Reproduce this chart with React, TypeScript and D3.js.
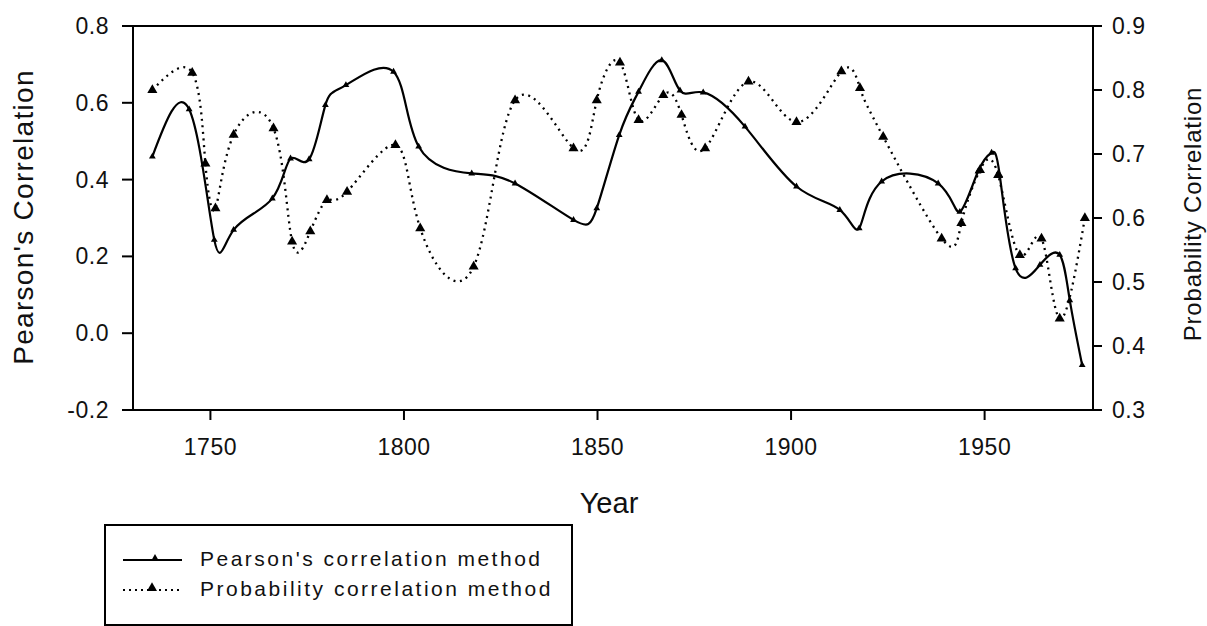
import React from "react";
import * as d3 from "d3";

const pearsonYears = [1735, 1744.5, 1751, 1756, 1766, 1770.7, 1775.5, 1779.7, 1785, 1797.3, 1803.8, 1817.5, 1828.7, 1843.8, 1849.8, 1855.6, 1860.6, 1866.6, 1871.3, 1877.3, 1888.1, 1901.4, 1912.6, 1917.6, 1923.4, 1938, 1943.6, 1948.3, 1951.8, 1953.9, 1958, 1964.3, 1969.4, 1972, 1975.2];
const pearsonValues = [0.46, 0.583, 0.243, 0.269, 0.351, 0.455, 0.453, 0.594, 0.646, 0.681, 0.486, 0.416, 0.39, 0.295, 0.325, 0.516, 0.629, 0.711, 0.632, 0.627, 0.538, 0.382, 0.321, 0.273, 0.395, 0.39, 0.316, 0.421, 0.47, 0.412, 0.169, 0.178, 0.204, 0.086, -0.083];

const probYears = [1735, 1745.3, 1748.7, 1751.3, 1756, 1766.3, 1771.1, 1775.8, 1780.1, 1785.3, 1797.8, 1804.2, 1818, 1828.7, 1843.8, 1849.8, 1855.8, 1860.6, 1867, 1871.7, 1877.8, 1889, 1901.4, 1913, 1917.8, 1923.8, 1938.9, 1944, 1948.8, 1953.5, 1959.1, 1964.7, 1969.4, 1975.9];
const probValues = [0.8, 0.827, 0.685, 0.615, 0.73, 0.74, 0.563, 0.579, 0.628, 0.641, 0.714, 0.584, 0.524, 0.784, 0.709, 0.784, 0.843, 0.753, 0.792, 0.761, 0.709, 0.813, 0.75, 0.829, 0.803, 0.727, 0.568, 0.592, 0.675, 0.667, 0.542, 0.568, 0.443, 0.6];

const xTicks = [1750, 1800, 1850, 1900, 1950];
const leftTicks = [-0.2, 0.0, 0.2, 0.4, 0.6, 0.8];
const rightTicks = [0.3, 0.4, 0.5, 0.6, 0.7, 0.8, 0.9];
const seriesNames = ["Pearson's correlation method", "Probability correlation method"];

const FONT = "'Liberation Sans', Arial, sans-serif";

export default function App() {
  const L = 133, R = 1093, T = 26, B = 410;
  const x = d3.scaleLinear().domain([1730, 1978]).range([L, R]);
  const yL = d3.scaleLinear().domain([-0.2, 0.8]).range([B, T]);
  const yR = d3.scaleLinear().domain([0.3, 0.9]).range([B, T]);

  const pData = pearsonYears.map((yr, i) => [yr, pearsonValues[i]] as [number, number]);
  const qData = probYears.map((yr, i) => [yr, probValues[i]] as [number, number]);

  const lineP = d3.line<[number, number]>().x(d => x(d[0])).y(d => yL(d[1])).curve(d3.curveNatural);
  const lineQ = d3.line<[number, number]>().x(d => x(d[0])).y(d => yR(d[1])).curve(d3.curveNatural);

  const triBig = d3.symbol().type(d3.symbolTriangle).size(44)()!;
  const triSmall = d3.symbol().type(d3.symbolTriangle).size(20)()!;

  return (
    <svg width={1207} height={626} style={{ position: "absolute", left: 0, top: 0, background: "#fff" }} fontFamily={FONT}>
      <rect x={0} y={0} width={1207} height={626} fill="#fff" />
      {/* frame */}
      <line x1={L} x2={R} y1={T} y2={T} stroke="#000" strokeWidth={2} />
      <line x1={L} x2={R} y1={B} y2={B} stroke="#000" strokeWidth={2} />
      <line x1={L} x2={L} y1={T} y2={B} stroke="#000" strokeWidth={2} />
      <line x1={R} x2={R} y1={T} y2={B} stroke="#000" strokeWidth={2} />

      {/* x axis */}
      {xTicks.map(t => (
        <g key={t}>
          <line x1={x(t)} x2={x(t)} y1={B} y2={B + 10} stroke="#000" strokeWidth={2} />
          <text x={x(t)} y={455} textAnchor="middle" fontSize={23} letterSpacing={0.5} fill="#111">{t}</text>
        </g>
      ))}
      <text x={609} y={513} textAnchor="middle" fontSize={29} fill="#111">Year</text>

      {/* left axis */}
      {leftTicks.map(t => (
        <g key={t}>
          <line x1={L - 11} x2={L} y1={yL(t)} y2={yL(t)} stroke="#000" strokeWidth={2} />
          <text x={109} y={yL(t) + 8} textAnchor="end" fontSize={23} letterSpacing={0.5} fill="#111">{t.toFixed(1)}</text>
        </g>
      ))}
      <text transform="translate(33,217) rotate(-90)" textAnchor="middle" fontSize={28} letterSpacing={1.3} fill="#111">Pearson's Correlation</text>

      {/* right axis */}
      {rightTicks.map(t => (
        <g key={t}>
          <line x1={R} x2={R + 9} y1={yR(t)} y2={yR(t)} stroke="#000" strokeWidth={2} />
          <text x={1112} y={yR(t) + 8} textAnchor="start" fontSize={23} letterSpacing={0.5} fill="#111">{t.toFixed(1)}</text>
        </g>
      ))}
      <text transform="translate(1201,214) rotate(-90)" textAnchor="middle" fontSize={24} letterSpacing={0.8} fill="#111">Probability Correlation</text>

      {/* series */}
      <path d={lineQ(qData)!} fill="none" stroke="#000" strokeWidth={2.3} strokeDasharray="2 4.5" />
      <path d={lineP(pData)!} fill="none" stroke="#000" strokeWidth={2.2} />
      {qData.map((d, i) => (
        <path key={"q" + i} d={triBig} transform={`translate(${x(d[0])},${yR(d[1])})`} fill="#000" />
      ))}
      {pData.map((d, i) => (
        <path key={"p" + i} d={triSmall} transform={`translate(${x(d[0])},${yL(d[1])})`} fill="#000" />
      ))}

      {/* legend */}
      <rect x={105} y={525} width={467} height={100} fill="none" stroke="#000" strokeWidth={2} />
      <line x1={123} x2={182} y1={560} y2={560} stroke="#000" strokeWidth={2} />
      <path d={triSmall} transform="translate(155,558)" fill="#000" />
      <text x={200} y={566} fontSize={21} letterSpacing={2.5} fill="#111">{seriesNames[0]}</text>
      <line x1={123} x2={182} y1={590} y2={590} stroke="#000" strokeWidth={2} strokeDasharray="2 4" />
      <path d={triBig} transform="translate(152,588)" fill="#000" />
      <text x={200} y={596} fontSize={21} letterSpacing={2.5} fill="#111">{seriesNames[1]}</text>
    </svg>
  );
}
